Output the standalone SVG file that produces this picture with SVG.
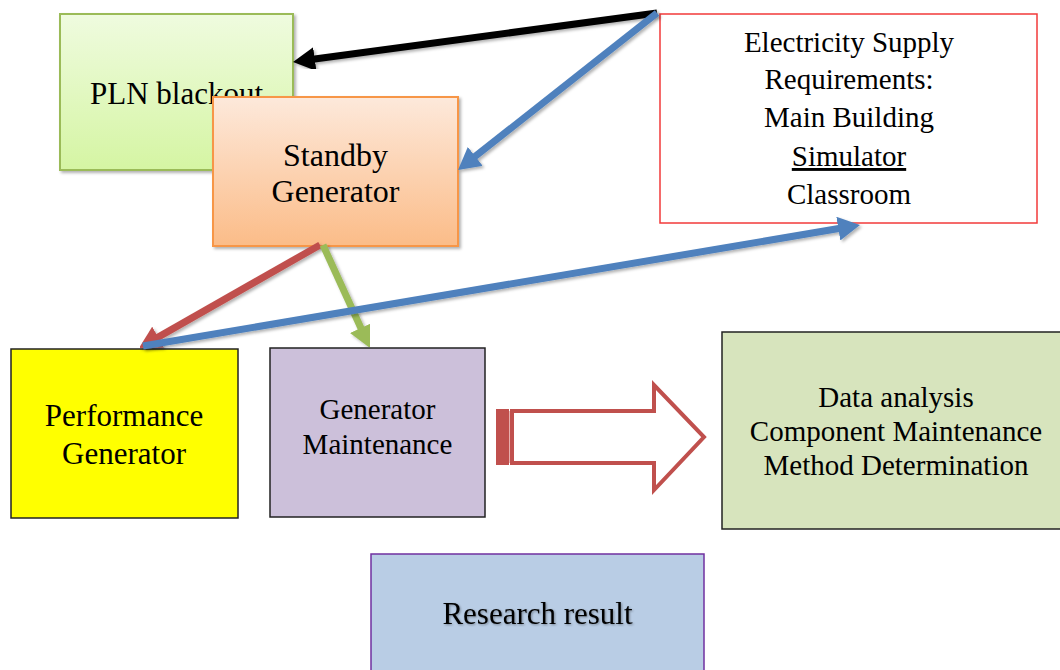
<svg xmlns="http://www.w3.org/2000/svg" width="1060" height="670" viewBox="0 0 1060 670">
  <style>
    text { font-family: "Liberation Serif", "Times New Roman", serif; fill: #000; text-anchor: middle; }
    .conn { fill: none; stroke-width: 7; stroke-linecap: butt; }
  </style>
  <defs>
    <linearGradient id="gGreen" x1="0" y1="0" x2="0" y2="1">
      <stop offset="0" stop-color="#effbdf"/>
      <stop offset="1" stop-color="#d5f5a3"/>
    </linearGradient>
    <linearGradient id="gOrange" x1="0" y1="0" x2="0" y2="1">
      <stop offset="0" stop-color="#fde9db"/>
      <stop offset="1" stop-color="#fbbc88"/>
    </linearGradient>
    <filter id="sh" x="-10%" y="-10%" width="130%" height="130%">
      <feDropShadow dx="2" dy="2" stdDeviation="1.5" flood-color="#000" flood-opacity="0.3"/>
    </filter>
    <marker id="mBlack" markerUnits="userSpaceOnUse" markerWidth="24" markerHeight="24" refX="2" refY="12" orient="auto">
      <path d="M0,0 L22,12 L0,24 Z" fill="#000"/>
    </marker>
    <marker id="mBlue" markerUnits="userSpaceOnUse" markerWidth="24" markerHeight="24" refX="2" refY="12" orient="auto">
      <path d="M0,0 L22,12 L0,24 Z" fill="#4f81bd"/>
    </marker>
    <marker id="mRed" markerUnits="userSpaceOnUse" markerWidth="24" markerHeight="24" refX="2" refY="12" orient="auto">
      <path d="M0,0 L22,12 L0,24 Z" fill="#c0504d"/>
    </marker>
    <marker id="mGreen" markerUnits="userSpaceOnUse" markerWidth="24" markerHeight="24" refX="2" refY="12" orient="auto">
      <path d="M0,0 L22,12 L0,24 Z" fill="#9bbb59"/>
    </marker>
  </defs>

  <rect width="1060" height="670" fill="#ffffff"/>

  <g id="pln-blackout">
    <rect x="60" y="14" width="233" height="156" fill="url(#gGreen)" stroke="#9bbb59" stroke-width="2" filter="url(#sh)"/>
    <text x="176.5" y="104" font-size="31">PLN blackout</text>
  </g>

  <g id="standby-generator">
    <rect x="213" y="97" width="245" height="149" fill="url(#gOrange)" stroke="#f79646" stroke-width="2" filter="url(#sh)"/>
    <text x="335.5" y="166" font-size="32">Standby</text>
    <text x="335.5" y="202" font-size="32">Generator</text>
  </g>

  <g id="electricity-supply">
    <rect x="660" y="14" width="377" height="209" fill="#ffffff" stroke="#f23a3a" stroke-width="1.5"/>
    <text x="849" y="52" font-size="29">Electricity Supply</text>
    <text x="849" y="89" font-size="29">Requirements:</text>
    <text x="849" y="127" font-size="29">Main Building</text>
    <text x="849" y="166" font-size="29" text-decoration="underline">Simulator</text>
    <text x="849" y="204" font-size="29">Classroom</text>
  </g>

  <g id="performance-generator">
    <rect x="11" y="349" width="227" height="169" fill="#ffff00" stroke="#222" stroke-width="1.5"/>
    <text x="124" y="426" font-size="31">Performance</text>
    <text x="124" y="464" font-size="31">Generator</text>
  </g>

  <g id="generator-maintenance">
    <rect x="270" y="348" width="215" height="169" fill="#ccc0da" stroke="#222" stroke-width="1.5"/>
    <text x="377.5" y="419" font-size="29">Generator</text>
    <text x="377.5" y="454" font-size="29">Maintenance</text>
  </g>

  <g id="data-analysis">
    <rect x="722" y="332" width="345" height="197" fill="#d7e4bd" stroke="#222" stroke-width="1.5"/>
    <text x="896" y="407" font-size="29">Data analysis</text>
    <text x="896" y="441" font-size="29">Component Maintenance</text>
    <text x="896" y="475" font-size="29">Method Determination</text>
  </g>

  <g id="research-result">
    <rect x="371" y="554" width="333" height="130" fill="#b9cde5" stroke="#7030a0" stroke-width="1.5"/>
    <text x="537.5" y="624" font-size="31" style="filter:drop-shadow(1px 1px 1px rgba(0,0,0,0.35))">Research result</text>
  </g>

  <g id="connectors">
    <line class="conn" x1="657" y1="13" x2="312.8" y2="59.3" stroke="#000" stroke-width="8" marker-end="url(#mBlack)" filter="url(#sh)"/>
    <line class="conn" x1="320" y1="245" x2="156.4" y2="338.1" stroke="#c0504d" marker-end="url(#mRed)" filter="url(#sh)"/>
    <line class="conn" x1="323" y1="245" x2="361.7" y2="329.8" stroke="#9bbb59" marker-end="url(#mGreen)" filter="url(#sh)"/>
    <line class="conn" x1="657" y1="13" x2="473.7" y2="157.6" stroke="#4f81bd" marker-end="url(#mBlue)" filter="url(#sh)"/>
    <line class="conn" x1="143" y1="346" x2="840.3" y2="228.3" stroke="#4f81bd" marker-end="url(#mBlue)" filter="url(#sh)"/>
    <g id="block-arrow">
      <rect x="496" y="409" width="13" height="56" fill="#c0504d"/>
      <line x1="509.5" y1="411" x2="509.5" y2="463" stroke="#e8b0ae" stroke-width="1"/>
      <path d="M512,411 L654,411 L654,385 L704,437 L654,490 L654,463 L512,463 Z" fill="#ffffff" stroke="#c0504d" stroke-width="4" stroke-linejoin="miter"/>
    </g>
  </g>
</svg>
